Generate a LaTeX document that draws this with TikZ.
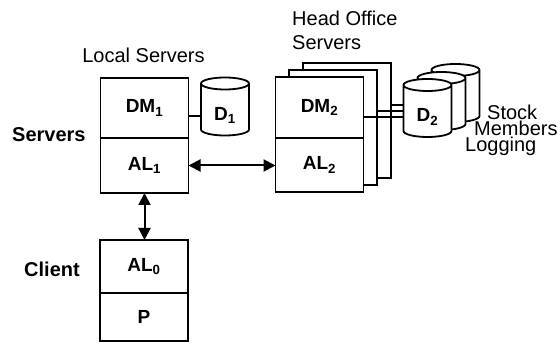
\documentclass[tikz,border=0pt]{standalone}
\usepackage{fontspec}
\setmainfont{Liberation Sans}
\usetikzlibrary{arrows.meta}
\newcommand{\dbdraw}[1]{%
  \draw[dbline] ([yshift=-6pt]#1.north west) -- ([yshift=6pt]#1.south west)
    arc[start angle=180,end angle=360,x radius=24pt,y radius=6pt]
    -- ([yshift=-6pt]#1.north east)
    arc[start angle=0,end angle=180,x radius=24pt,y radius=6pt] -- cycle
    ([yshift=-6pt]#1.north west) arc[start angle=180,end angle=360,x radius=24pt,y radius=6pt];}
\begin{document}
\begin{tikzpicture}[x=1pt,y=-1pt]
    % Define styles
    \tikzstyle{half}=[draw,fill=white,line width=1.8pt,minimum width=88pt,inner sep=0pt,outer sep=0pt,font=\fontsize{19}{22}\selectfont\bfseries]
    \tikzstyle{stack}=[draw,fill=white,line width=1.8pt,minimum width=88pt,minimum height=115pt,outer sep=0pt]
    \tikzstyle{dbspot}=[minimum width=48pt,minimum height=58pt,inner sep=0pt,outer sep=0pt]
    \tikzstyle{dbline}=[draw,fill=white,line width=1.8pt]
    \tikzstyle{dblabel}=[font=\fontsize{19}{22}\selectfont\bfseries,inner sep=0pt]
    \tikzstyle{caption}=[font=\fontsize{20}{24}\selectfont,inner sep=0pt]
    \tikzstyle{side}=[caption,font=\fontsize{20}{24}\selectfont\bfseries]
    \tikzstyle{bicall}=[line width=2pt,{Triangle[length=12pt,width=12pt]}-{Triangle[length=12pt,width=12pt]}]
    \tikzstyle{link}=[line width=1.8pt]

    \useasboundingbox (0,0) rectangle (558,342);

    % Draw the local server
    \node[half,minimum height=60pt] (dm1) at (144.5,108) {DM\textsubscript{1}};
    \node[half,minimum height=55pt,anchor=north] (al1) at (dm1.south) {AL\textsubscript{1}};
    \node[dbspot] (d1) at (225,106.5) {};
    \dbdraw{d1}
    \node[dblabel] at ([yshift=-9pt]d1.center) {D\textsubscript{1}};
    \draw[link] ([yshift=-8pt]dm1.east) -- ([yshift=-8pt]dm1.east -| d1.west);

    % Draw the head office servers
    \node[stack] (ho3) at (347,120.5) {};
    \node[stack] (ho2) at (333,127.5) {};
    \node[half,minimum height=61pt] (dm2) at (319.5,107.5) {DM\textsubscript{2}};
    \node[half,minimum height=54pt,anchor=north] (al2) at (dm2.south) {AL\textsubscript{2}};

    % Draw the databases, back to front
    \node[dbspot] (d2c) at (455.5,93) {};
    \dbdraw{d2c}
    \node[dblabel] at ([yshift=-9pt]d2c.center) {D\textsubscript{2}};
    \node[dbspot] (d2b) at (441.5,101) {};
    \dbdraw{d2b}
    \node[dblabel] at ([yshift=-9pt]d2b.center) {D\textsubscript{2}};
    \node[dbspot] (d2a) at (427.5,108) {};
    \dbdraw{d2a}
    \node[dblabel] at ([yshift=-9pt]d2a.center) {D\textsubscript{2}};

    % Draw the links to the databases
    \draw[link] ([yshift=15.5pt]ho3.east) -- ([yshift=15.5pt]ho3.east -| d2a.west);
    \draw[link] ([yshift=16.5pt]ho2.east) -- ([yshift=16.5pt]ho2.east -| d2a.west);
    \draw[link] ([yshift=-9.5pt]dm2.east) -- ([yshift=-9.5pt]dm2.east -| d2a.west);

    % Draw the client
    \node[half,minimum height=53pt] (al0) at (144,266.5) {AL\textsubscript{0}};
    \node[half,minimum height=48pt,anchor=north] (p) at (al0.south) {P};

    % Draw the calls
    \draw[bicall] (al1.east) -- (al1.east -| al2.west);
    \draw[bicall] (al1.south) -- (al1.south |- al0.north);

    % Add the captions
    \node[caption,anchor=base] at (143.5,63) {Local Servers};
    \node[side,anchor=base west] at (12,142) {Servers};
    \node[side,anchor=base west] at (24,277) {Client};
    \node[caption,anchor=base west,align=left] at (292,50) {Head Office\\Servers};
    \node[caption,anchor=base west] at (487,120) {Stock};
    \node[caption,anchor=base west] at (474,136) {Members};
    \node[caption,anchor=base west] at (465,152) {Logging};
\end{tikzpicture}
\end{document}
